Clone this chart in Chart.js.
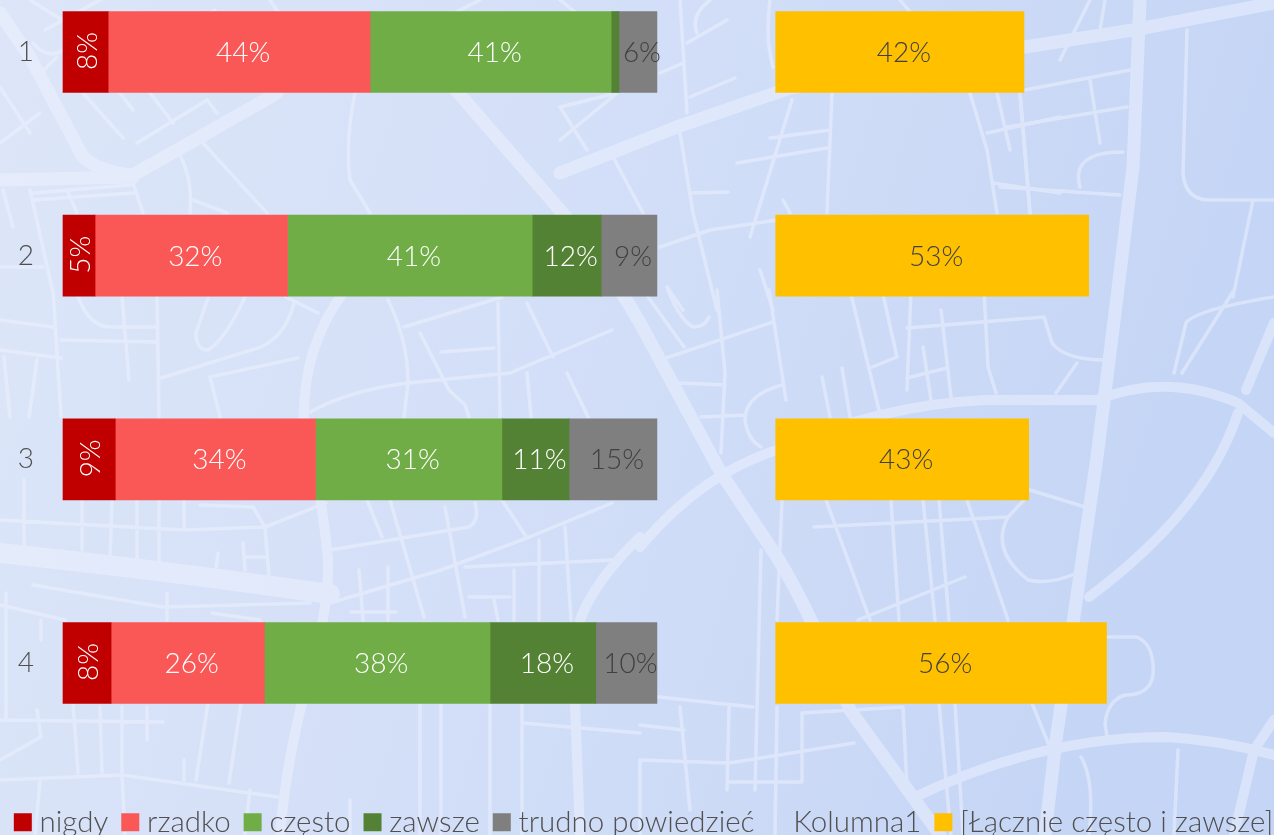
<!DOCTYPE html>
<html lang="pl"><head><meta charset="utf-8">
<style>
html,body{margin:0;padding:0;width:1274px;height:835px;overflow:hidden;background:#d6e1f8}
#bg{position:absolute;left:0;top:0}
#wrap{position:absolute;left:0;top:0;width:1274px;height:835px}
</style>
<script src="https://cdn.jsdelivr.net/npm/chart.js@4"></script>
</head><body>
<svg id="bg" width="1274" height="835" viewBox="0 0 1274 835">
<defs><linearGradient id="g" x1="0" y1="0" x2="1" y2="0.2">
<stop offset="0" stop-color="#dde6f8"/><stop offset="0.5" stop-color="#d3dff8"/><stop offset="1" stop-color="#c5d5f5"/></linearGradient></defs>
<rect width="1274" height="835" fill="url(#g)"/>
<g fill="none" stroke="#eef2ff" stroke-linecap="round" stroke-linejoin="round" opacity="0.5">
<g stroke-width="13">
<path d="M0 13 L30 57 L83 157 Q100 172 133 175 L200 137 L277 93"/>
<path d="M0 180 L133 177"/>
<path d="M560 173 L677 127 L790 88 L1025 47 L1133 30 L1274 3"/>
<path d="M430 60 L560 210 Q610 270 640 323 L721 473 L777 557 Q810 610 850 710 L915 800 L940 835"/>
<path d="M1140 0 L1133 167 L1117 297 L1097 457 L1073 623 L1056 740 L1045 835"/>
</g>
<path stroke-width="20" d="M0 553 Q160 570 330 594"/>
<g stroke-width="10">
<path d="M345 290 Q300 350 304 430 Q322 490 328 560 Q330 610 305 690 Q285 770 280 835"/>
<path d="M640 547 Q700 475 777 450 Q880 405 984 400 L1097 400 Q1166 372 1238 403 L1274 433"/>
<path d="M1238 413 Q1206 510 1089 597"/>
<path d="M915 797 Q1040 737 1166 737 Q1220 740 1274 755"/>
<path d="M1274 720 L1254 750 L1234 835"/>
<path d="M1246 390 L1274 323"/>
<path d="M640 537 Q595 580 580 620"/>
<path d="M575 703 L580 835"/>
</g>
<g stroke-width="3.5">
<path d="M83 93 L123 138 M120 93 L133 110 M150 93 L173 123 M137 143 L207 100 L217 113 M203 143 L267 213 M180 155 Q193 180 190 213 M193 200 L227 213 M355 93 Q345 140 350 180 L370 213"/>
<path d="M0 143 L40 113 M0 87 L30 133 M37 77 L57 57 M33 43 Q47 60 63 50"/>
<path d="M33 193 L130 185 M33 200 L133 193 M3 190 L13 227 M30 190 L53 293 M67 190 L77 213 M133 183 L143 213 M0 267 L43 267"/>
<path d="M560 107 L617 93 M560 140 L617 93 M560 107 L587 150 M613 157 L643 213 M680 0 L687 113 M680 133 L693 213 L717 310 M660 73 L683 63 M687 43 L727 20 M697 33 Q690 15 710 0 M690 97 L735 78 M770 0 Q765 40 773 67"/>
<path d="M690 193 L728 192 M832 93 L827 213 M792 100 L750 237 M770 138 L830 130 M737 163 L827 148 M783 200 L790 213 M970 93 L987 150 L997 213 M997 93 L1010 150 M1020 93 L1030 213 M987 133 L1060 117 M993 183 L1060 193"/>
<path d="M660 247 L710 230 L777 220 M760 270 L773 310 M667 287 L683 310"/>
<path d="M1025 90 L1130 70 M1007 127 L1127 107 M1187 30 L1183 173 Q1185 200 1210 200 L1274 200 M1253 200 L1233 297 M1000 187 L1120 195 M1020 93 L1030 213 M1090 80 L1100 143 M1080 187 Q1070 152 1123 152"/>
<path d="M1174 373 L1186 323 Q1195 310 1274 297 M1182 373 L1234 290 M907 328 L1044 317 L1052 343 Q1065 360 1105 360 M1077 363 L1056 393 M850 290 L879 410 M882 290 L897 357 L870 368 M822 377 L830 417 M842 368 L850 417 M911 290 L907 390 M941 310 L951 397 M984 290 L988 367 L996 393 M907 378 L947 368 M923 347 L931 400"/>
<path d="M769 290 L786 400 M666 358 L773 322 M648 297 L684 347 M668 290 Q680 320 693 327 Q705 327 709 317 M717 290 L725 373 L721 453 M680 383 L725 385 M701 417 L745 415 M782 385 Q745 395 745 420 Q748 440 761 447"/>
<path d="M1030 490 L1085 507 M814 527 L1008 517 L1024 500 M1008 517 Q990 550 1028 580 Q1050 585 1077 573 M826 500 L870 620 M891 500 L899 620 M923 500 L935 620 M939 500 L949 620 M967 500 L1008 620 M858 620 L965 577 M782 500 L777 620 M761 550 L755 790"/>
<path d="M640 695 L753 707 M680 707 L690 810 M729 707 L727 790 M640 725 L684 730 M640 760 L729 763 L854 743 M777 707 L775 835 M802 713 L802 782 L729 782 M802 713 L903 707 L907 787 M939 703 L951 835 M955 703 L963 835 M1032 703 L1048 743"/>
<path d="M1107 637 L1137 637 Q1155 645 1153 675 Q1150 695 1125 695 Q1108 700 1105 723 L1107 737 M1081 757 Q1095 780 1089 835 M1178 750 L1174 835"/>
<path d="M53 290 L61 417 M0 320 L53 327 M78 297 Q90 327 110 327 L155 327 M122 297 L129 380 M157 297 L159 417 M61 340 L157 342 M0 350 L61 358 M4 357 L10 417 M37 360 L29 417"/>
<path d="M161 378 L261 347 Q286 335 294 303 M208 298 L196 333 Q196 350 208 350 Q225 340 245 297 M286 297 L318 313 M210 377 L298 358 M210 377 L220 417"/>
<path d="M388 300 Q408 340 408 383 L404 417 M310 412 Q350 390 408 383 L510 373 L612 330 M404 327 L502 297 M420 333 L449 390 L465 405 L469 417 M441 352 L494 348 M498 303 L500 417 M527 303 L553 357 M527 373 L531 417 M567 373 L588 417"/>
<path d="M82 500 L82 550 M112 500 L110 560 M137 500 L137 565 M159 500 L159 570 M184 500 L184 530 M0 520 L184 530 L265 527 L326 503 M24 480 L24 545 M200 505 L253 507 L265 527 L269 577 M218 553 L216 570 M243 543 L245 570 M245 557 L265 557"/>
<path d="M330 550 L469 527 Q480 520 475 503 M367 500 L382 537 M390 500 L424 617 M445 507 L465 617 M330 603 L441 570 L527 538 L612 503 M502 500 L527 538 M565 527 L571 620 M539 540 L539 620 M465 567 L612 560 M514 570 L514 620 M359 570 L363 620 M388 567 L388 620 M351 612 L396 612 M469 597 L510 597 M494 600 L498 620"/>
<path d="M33 585 L163 607 L310 603 M0 605 L65 620 M167 593 L167 620 M212 613 L260 620 M6 593 L6 717 M41 620 L41 640"/>
<path d="M73 703 L78 773 M100 707 L102 773 M122 707 L122 773 M147 707 L147 740 M0 720 L163 722 M37 710 L41 737 L0 760 M0 780 L122 775 L278 797 M208 703 L196 780 M241 703 L229 783 M184 760 L184 780 M420 703 L420 835 M441 703 L441 835 M490 703 L490 835 M522 703 L522 835 M522 723 L640 733"/>
<path d="M40 780 L35 835 M122 775 L125 835 M250 790 L245 835 M350 800 L350 835 M640 760 L640 835 M30 0 L70 25 M100 0 L45 30 M130 70 L215 10 M270 0 L290 30 M420 30 L480 0 M560 0 L610 40 M900 0 L925 30 M1060 60 L1090 0 M1100 30 L1105 0"/>
</g>
</g>
</svg>
<div id="wrap"><canvas id="c" width="1274" height="835"></canvas></div>
<script>
const categories = ['1', '2', '3', '4'];
const nigdy = [7.6, 5.4, 8.8, 8.1];
const rzadko = [44.1, 32.4, 33.7, 25.8];
const czesto = [40.6, 41.2, 31.4, 38.0];
const zawsze = [1.3, 11.6, 11.3, 17.8];
const trudno = [6.4, 9.4, 14.8, 10.3];
const kolumna1 = [20, 20, 20, 20];
const lacznie = [41.8, 52.7, 42.6, 55.7];

const FONT = 'Lato, "Open Sans", sans-serif';
const mk = (label, data, color, lab) => ({label, data, backgroundColor: color, stack: 's', barThickness: 81, clip: false, borderWidth: 0, lab});

const labelsPlugin = {
  id: 'barLabels',
  afterDatasetsDraw(chart) {
    const ctx = chart.ctx;
    chart.data.datasets.forEach((ds, i) => {
      if (!ds.lab) return;
      chart.getDatasetMeta(i).data.forEach((bar, j) => {
        const v = ds.data[j];
        if (v < 2) return;
        const p = bar.getProps(['x', 'base', 'y']);
        const cx = (p.x + p.base) / 2;
        ctx.save();
        ctx.fillStyle = ds.lab.color;
        ctx.font = '300 28px ' + FONT;
        ctx.textAlign = 'center';
        ctx.textBaseline = 'middle';
        if (ds.lab.rotate) {
          ctx.translate(cx + 2, p.y - 1);
          ctx.rotate(-Math.PI / 2);
          ctx.fillText(Math.round(v) + '%', 0, 0);
        } else {
          ctx.fillText(Math.round(v) + '%', cx + 4, p.y + 1);
        }
        ctx.restore();
      });
    });
  }
};

new Chart(document.getElementById('c'), {
  type: 'bar',
  data: {
    labels: categories,
    datasets: [
      mk('nigdy', nigdy, '#c00000', {color: '#ffffff', rotate: true}),
      mk('rzadko', rzadko, '#fa5757', {color: '#ffffff'}),
      mk('często', czesto, '#70ad47', {color: '#ffffff'}),
      mk('zawsze', zawsze, '#548235', {color: '#ffffff'}),
      mk('trudno powiedzieć', trudno, '#7f7f7f', {color: '#404040'}),
      mk('Kolumna1', kolumna1, 'rgba(0,0,0,0)', null),
      mk('[Łącznie często i zawsze]', lacznie, '#ffc000', {color: '#404040'})
    ]
  },
  options: {
    indexAxis: 'y',
    responsive: false,
    animation: false,
    layout: {padding: {top: 52, right: -20, left: 0, bottom: -12}},
    scales: {
      x: {
        stacked: true, min: 0, max: 203.9,
        grid: {display: false}, border: {display: false},
        ticks: {display: false},
        afterFit(s) { s.height = 124.5; }
      },
      y: {
        stacked: true, offset: false,
        grid: {display: false}, border: {display: false},
        ticks: {color: '#505050', padding: 21, font: {family: FONT, size: 28, weight: 300}},
        afterFit(s) { s.width = 63; }
      }
    },
    plugins: {
      tooltip: {enabled: false},
      legend: {
        position: 'bottom',
        labels: {
          boxWidth: 4, boxHeight: 18, usePointStyle: true, pointStyle: 'rect', padding: 20,
          color: '#505050', font: {family: FONT, size: 29.5, weight: 300},
          generateLabels(chart) {
            return chart.data.datasets.map((d, i) => ({
              text: d.label, fillStyle: d.backgroundColor, strokeStyle: 'rgba(0,0,0,0)',
              lineWidth: 0, pointStyle: 'rect', fontColor: '#505050', datasetIndex: i
            }));
          }
        }
      }
    }
  },
  plugins: [labelsPlugin]
});
</script>
</body></html>
